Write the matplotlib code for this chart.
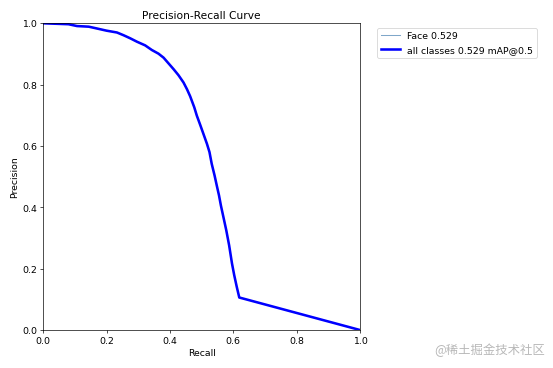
import numpy as np
import matplotlib.pyplot as plt

# PR curve (recall, precision)
recall = [0.0, 0.08, 0.107, 0.144, 0.17, 0.20, 0.233, 0.254, 0.275, 0.296,
          0.322, 0.343, 0.364, 0.380, 0.396, 0.412, 0.427, 0.443, 0.454, 0.464,
          0.477, 0.485, 0.496, 0.506, 0.517, 0.525, 0.532, 0.541, 0.548, 0.555,
          0.561, 0.569, 0.578, 0.587, 0.596, 0.603, 0.611, 0.619, 1.0]
precision = [1.0, 0.997, 0.991, 0.989, 0.983, 0.976, 0.970, 0.961, 0.951, 0.940,
             0.928, 0.913, 0.901, 0.888, 0.869, 0.850, 0.831, 0.807, 0.785, 0.762,
             0.726, 0.699, 0.668, 0.639, 0.607, 0.580, 0.542, 0.504, 0.471, 0.439,
             0.406, 0.368, 0.325, 0.276, 0.217, 0.179, 0.141, 0.106, 0.0]
class_name = "Face"
ap = 0.529

plt.rcParams["font.size"] = 11

fig, ax = plt.subplots(1, 1, figsize=(9, 6), dpi=553 / 9)
fig.subplots_adjust(left=0.078, right=0.651, top=0.935, bottom=0.103)

ax.plot(recall, precision, linewidth=1.2, color="#7fa7c9",
        label=f"{class_name} {ap:.3f}")
ax.plot(recall, precision, linewidth=3, color="blue",
        label=f"all classes {ap:.3f} mAP@0.5")

ax.set_xlabel("Recall")
ax.set_ylabel("Precision")
ax.set_xlim(0, 1)
ax.set_ylim(0, 1)
ax.set_title("Precision-Recall Curve", fontsize=12.5)
ax.legend(bbox_to_anchor=(1.04, 1), loc="upper left")

# watermark
fig.text(0.985, 0.05, "@稀土掘金技术社区", ha="right", va="center",
         color="#b8b8b8", fontsize=14.5,
         family=["Noto Sans CJK SC", "DejaVu Sans"])

fig.savefig("out.png", dpi=553 / 9)
